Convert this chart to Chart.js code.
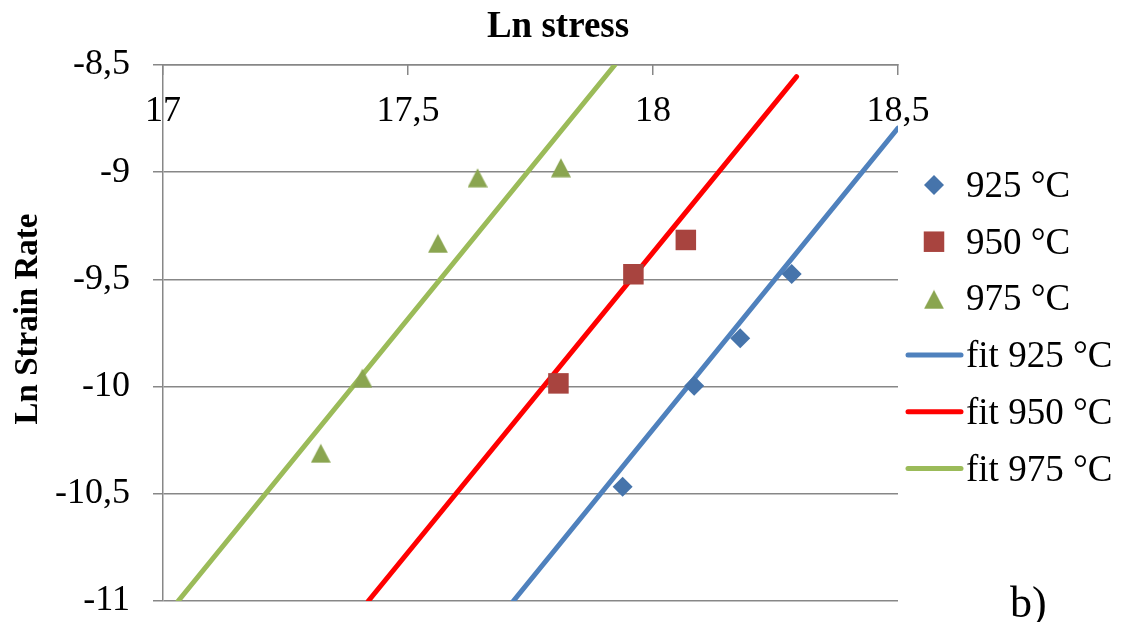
<!DOCTYPE html>
<html>
<head>
<meta charset="utf-8">
<script src="https://cdn.jsdelivr.net/npm/chart.js@4.4.0/dist/chart.umd.min.js"></script>
<style>
html,body{margin:0;padding:0;background:#fff;}
#wrap{width:1121px;height:622px;position:relative;}
</style>
</head>
<body>
<div id="wrap"><canvas id="c" width="1121" height="622"></canvas></div>
<script>
// ---- data ----
const seriesNames = ['925 °C', '950 °C', '975 °C'];
const fitNames = ['fit 925 °C', 'fit 950 °C', 'fit 975 °C'];

const x925 = [17.938, 18.084, 18.178, 18.283];
const y925 = [-10.467, -9.996, -9.775, -9.475];
const x950 = [17.807, 17.960, 18.067];
const y950 = [-9.985, -9.476, -9.316];
const x975 = [17.322, 17.407, 17.561, 17.642, 17.812];
const y975 = [-10.311, -9.961, -9.332, -9.026, -8.979];

const fitX925 = [17.715, 18.5];
const fitY925 = [-11, -8.794];
const fitX950 = [17.419, 18.293];
const fitY950 = [-11, -8.554];
const fitX975 = [17.031, 17.922];
const fitY975 = [-11, -8.5];

const xTicks = [17, 17.5, 18, 18.5];
const xTickLabels = ['17', '17,5', '18', '18,5'];
const yTicks = [-11, -10.5, -10, -9.5, -9, -8.5];
const yTickLabels = ['-11', '-10,5', '-10', '-9,5', '-9', '-8,5'];

const xTitle = 'Ln stress';
const yTitle = 'Ln Strain Rate';
const panelLabel = 'b)';

// ---- styling ----
const FONT = "'Liberation Serif', 'Times New Roman', serif";
const GRID = '#878787';
const markerColors = ['#4674AB', '#A8443F', '#8AA550'];
const fitColors = ['#4F81BD', '#FF0000', '#9BBB59'];

// triangle marker image, centred on its bounding box like the original
const tri = document.createElement('canvas');
tri.width = 20; tri.height = 20;
(function () {
  const t = tri.getContext('2d');
  t.fillStyle = markerColors[2];
  t.beginPath();
  t.moveTo(10, 0.5); t.lineTo(20, 19.5); t.lineTo(0, 19.5);
  t.closePath(); t.fill();
})();

const markerStyles = ['rectRot', 'rect', tri];
const markerRadii = [10, 14.5, 10];

const pts = (xs, ys) => xs.map((x, i) => ({x: x, y: ys[i]}));
const scatterSets = [[x925, y925], [x950, y950], [x975, y975]];
const fitSets = [[fitX925, fitY925], [fitX950, fitY950], [fitX975, fitY975]];

const datasets = [];
scatterSets.forEach((s, i) => {
  datasets.push({
    label: seriesNames[i],
    data: pts(s[0], s[1]),
    showLine: false,
    pointStyle: markerStyles[i],
    pointRadius: markerRadii[i],
    pointHoverRadius: markerRadii[i],
    pointBackgroundColor: markerColors[i],
    pointBorderColor: markerColors[i],
    pointBorderWidth: 0,
    order: 0
  });
});
fitSets.forEach((s, i) => {
  datasets.push({
    label: fitNames[i],
    data: pts(s[0], s[1]),
    showLine: true,
    borderColor: fitColors[i],
    borderWidth: 5,
    borderCapStyle: 'round',
    pointRadius: 0,
    pointHoverRadius: 0,
    fill: false,
    tension: 0,
    order: 1
  });
});

function drawMarker(ctx, style, r, color, x, y) {
  ctx.save();
  if (style instanceof HTMLCanvasElement) {
    ctx.drawImage(style, x - style.width / 2, y - style.height / 2);
    ctx.restore();
    return;
  }
  ctx.fillStyle = color;
  ctx.beginPath();
  if (style === 'rectRot') {
    ctx.moveTo(x - r, y); ctx.lineTo(x, y - r); ctx.lineTo(x + r, y); ctx.lineTo(x, y + r);
  } else {
    const h = r * Math.SQRT1_2;
    ctx.rect(x - h, y - h, 2 * h, 2 * h);
  }
  ctx.closePath();
  ctx.fill();
  ctx.restore();
}

const decor = {
  id: 'decor',
  afterDraw(chart) {
    const ctx = chart.ctx;
    ctx.save();
    ctx.fillStyle = '#000';
    ctx.textBaseline = 'alphabetic';
    ctx.textAlign = 'center';
    ctx.font = 'bold 37px ' + FONT;
    ctx.fillText(xTitle, 558, 37);
    ctx.save();
    ctx.font = 'bold 33px ' + FONT;
    ctx.translate(37, 319);
    ctx.rotate(-Math.PI / 2);
    ctx.fillText(yTitle, 0, 0);
    ctx.restore();

    // legend
    ctx.font = '37px ' + FONT;
    ctx.textAlign = 'left';
    const top = 185, step = 56.7;
    for (let i = 0; i < 3; i++) {
      const cy = top + i * step;
      drawMarker(ctx, markerStyles[i], markerRadii[i], markerColors[i], 934, cy + (i === 2 ? 1 : 0));
      ctx.fillStyle = '#000';
      ctx.fillText(seriesNames[i], 966, cy + 12);
    }
    for (let i = 0; i < 3; i++) {
      const cy = top + (i + 3) * step;
      ctx.strokeStyle = fitColors[i];
      ctx.lineWidth = 5;
      ctx.lineCap = 'round';
      ctx.beginPath();
      ctx.moveTo(908, cy); ctx.lineTo(961, cy);
      ctx.stroke();
      ctx.fillStyle = '#000';
      ctx.fillText(fitNames[i], 966, cy + 12);
    }

    ctx.font = '44px ' + FONT;
    ctx.fillText(panelLabel, 1010, 617);
    ctx.restore();
  }
};

new Chart(document.getElementById('c'), {
  type: 'scatter',
  data: {datasets: datasets},
  plugins: [decor],
  options: {
    responsive: false,
    animation: false,
    devicePixelRatio: 1,
    layout: {padding: {left: 0, top: 0, right: 223, bottom: 21}},
    plugins: {legend: {display: false}, tooltip: {enabled: false}, title: {display: false}},
    scales: {
      x: {
        type: 'linear',
        position: 'top',
        min: 17, max: 18.5,
        afterBuildTicks: (s) => { s.ticks = xTicks.map(v => ({value: v})); },
        afterFit: (s) => { s.height = 65; s.paddingLeft = 0; s.paddingRight = 0; },
        ticks: {
          mirror: true,
          padding: 25,
          autoSkip: false,
          maxRotation: 0,
          color: '#000',
          font: {family: FONT, size: 36},
          callback: (v, i) => xTickLabels[i]
        },
        grid: {drawOnChartArea: false, drawTicks: true, tickLength: -10, color: GRID, lineWidth: 1.5},
        border: {display: true, color: GRID, width: 1.5},
        title: {display: false}
      },
      y: {
        type: 'linear',
        position: 'left',
        min: -11, max: -8.5,
        afterBuildTicks: (s) => { s.ticks = yTicks.map(v => ({value: v})); },
        afterFit: (s) => { s.width = 163; s.paddingTop = 0; s.paddingBottom = 0; },
        ticks: {
          padding: 23,
          autoSkip: false,
          color: '#000',
          font: {family: FONT, size: 36},
          callback: (v, i) => yTickLabels[i]
        },
        grid: {drawOnChartArea: true, drawTicks: true, tickLength: 10, color: GRID, lineWidth: 1.5},
        border: {display: true, color: GRID, width: 1.5},
        title: {display: false}
      }
    }
  }
});
</script>
</body>
</html>
